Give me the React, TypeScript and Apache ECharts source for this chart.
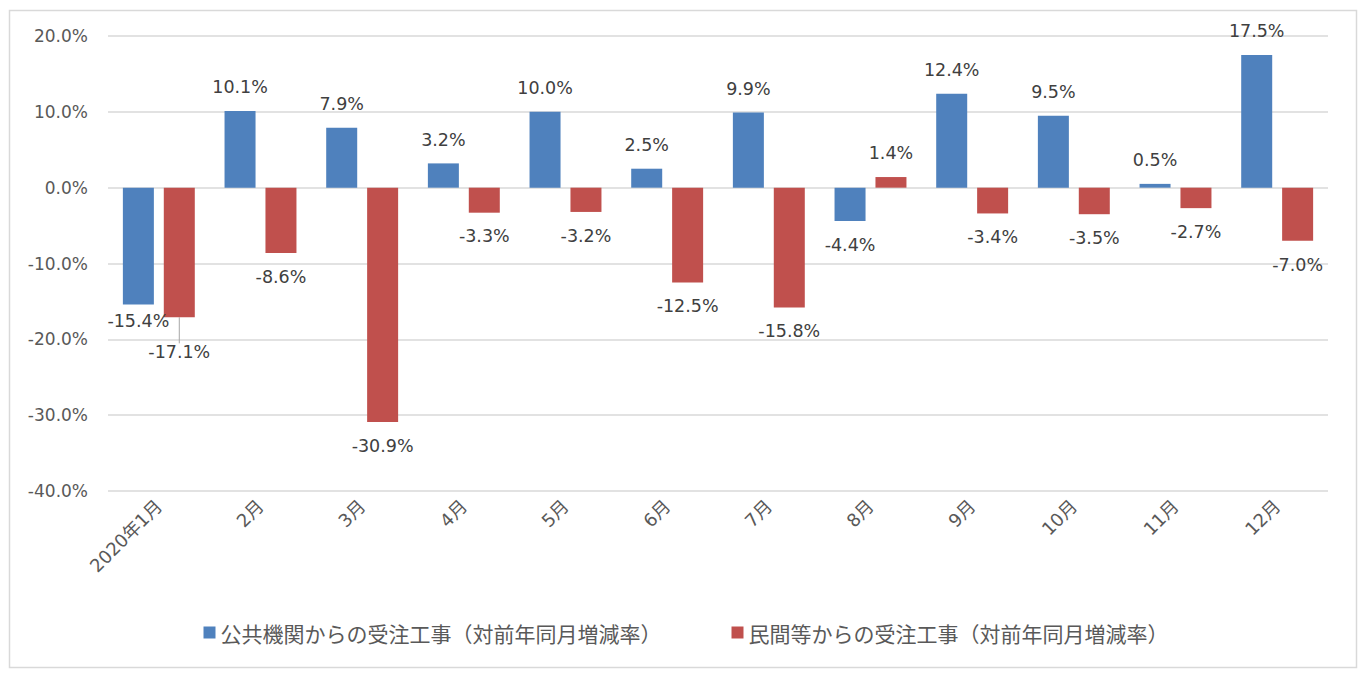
import React, { useEffect, useRef } from "react";
import * as echarts from "echarts";

const categories = ["2020年1月", "2月", "3月", "4月", "5月", "6月", "7月", "8月", "9月", "10月", "11月", "12月"];
const publicValues = [-15.4, 10.1, 7.9, 3.2, 10.0, 2.5, 9.9, -4.4, 12.4, 9.5, 0.5, 17.5];
const privateValues = [-17.1, -8.6, -30.9, -3.3, -3.2, -12.5, -15.8, 1.4, -3.4, -3.5, -2.7, -7.0];
const seriesNames = ["公共機関からの受注工事（対前年同月増減率）", "民間等からの受注工事（対前年同月増減率）"];
const colors = ["#4f81bd", "#c0504d"];

const FONT = "'DejaVu Sans', 'Noto Sans CJK JP', sans-serif";
const CJK_FONT = "'Noto Sans CJK JP', sans-serif";

function makeData(values: number[], leaderIndex: number) {
  return values.map((v, i) => ({
    value: v,
    label: { position: v >= 0 ? "top" : "bottom" },
    labelLine: { show: i === leaderIndex },
  }));
}

export default function App() {
  const ref = useRef<HTMLDivElement>(null);
  useEffect(() => {
    if (!ref.current) return;
    const chart = echarts.init(ref.current, null, { renderer: "svg" });
    const labelBase = {
      show: true,
      distance: 15,
      color: "#404040",
      fontSize: 17.5,
      fontFamily: FONT,
      formatter: (p: any) => Number(p.value).toFixed(1) + "%",
    };
    chart.setOption({
      animation: false,
      backgroundColor: "#ffffff",
      graphic: [
        {
          type: "rect",
          shape: { x: 9.5, y: 10.5, width: 1347, height: 657 },
          style: { fill: "none", stroke: "#d9d9d9", lineWidth: 1.5 },
          silent: true,
        },
      ],
      grid: { left: 108, right: 44, top: 36, bottom: 187, containLabel: false },
      legend: {
        bottom: 30,
        left: "center",
        itemWidth: 12,
        itemHeight: 12,
        itemGap: 70,
        icon: "rect",
        textStyle: { fontSize: 21, color: "#595959", fontFamily: CJK_FONT },
        data: seriesNames,
      },
      xAxis: {
        type: "category",
        data: categories,
        axisLine: { show: false },
        axisTick: { show: false },
        axisLabel: {
          rotate: 45,
          interval: 0,
          fontSize: 18,
          color: "#595959",
          fontFamily: FONT,
          margin: 12,
        },
      },
      yAxis: {
        type: "value",
        min: -40,
        max: 20,
        interval: 10,
        axisLine: { show: false },
        axisTick: { show: false },
        splitLine: { lineStyle: { color: "#d9d9d9", width: 1.5 } },
        axisLabel: {
          formatter: (v: number) => v.toFixed(1) + "%",
          fontSize: 17,
          color: "#595959",
          fontFamily: FONT,
          margin: 20,
        },
      },
      series: [
        {
          name: seriesNames[0],
          type: "bar",
          data: makeData(publicValues, -1),
          barWidth: 31,
          barGap: "32%",
          itemStyle: { color: colors[0] },
          label: labelBase,
          labelLayout: (p: any) => (p.dataIndex === 0 ? { dy: -7 } : {}),
        },
        {
          name: seriesNames[1],
          type: "bar",
          data: makeData(privateValues, 0),
          barWidth: 31,
          barGap: "32%",
          itemStyle: { color: colors[1] },
          label: labelBase,
          labelLayout: (p: any) => (p.dataIndex === 0 ? { dy: 11 } : {}),
          labelLine: { lineStyle: { color: "#a6a6a6", width: 1 } },
        },
      ],
    });
    return () => chart.dispose();
  }, []);
  return (
    <div
      ref={ref}
      style={{ position: "fixed", left: 0, top: 0, width: 1372, height: 678 }}
    />
  );
}
